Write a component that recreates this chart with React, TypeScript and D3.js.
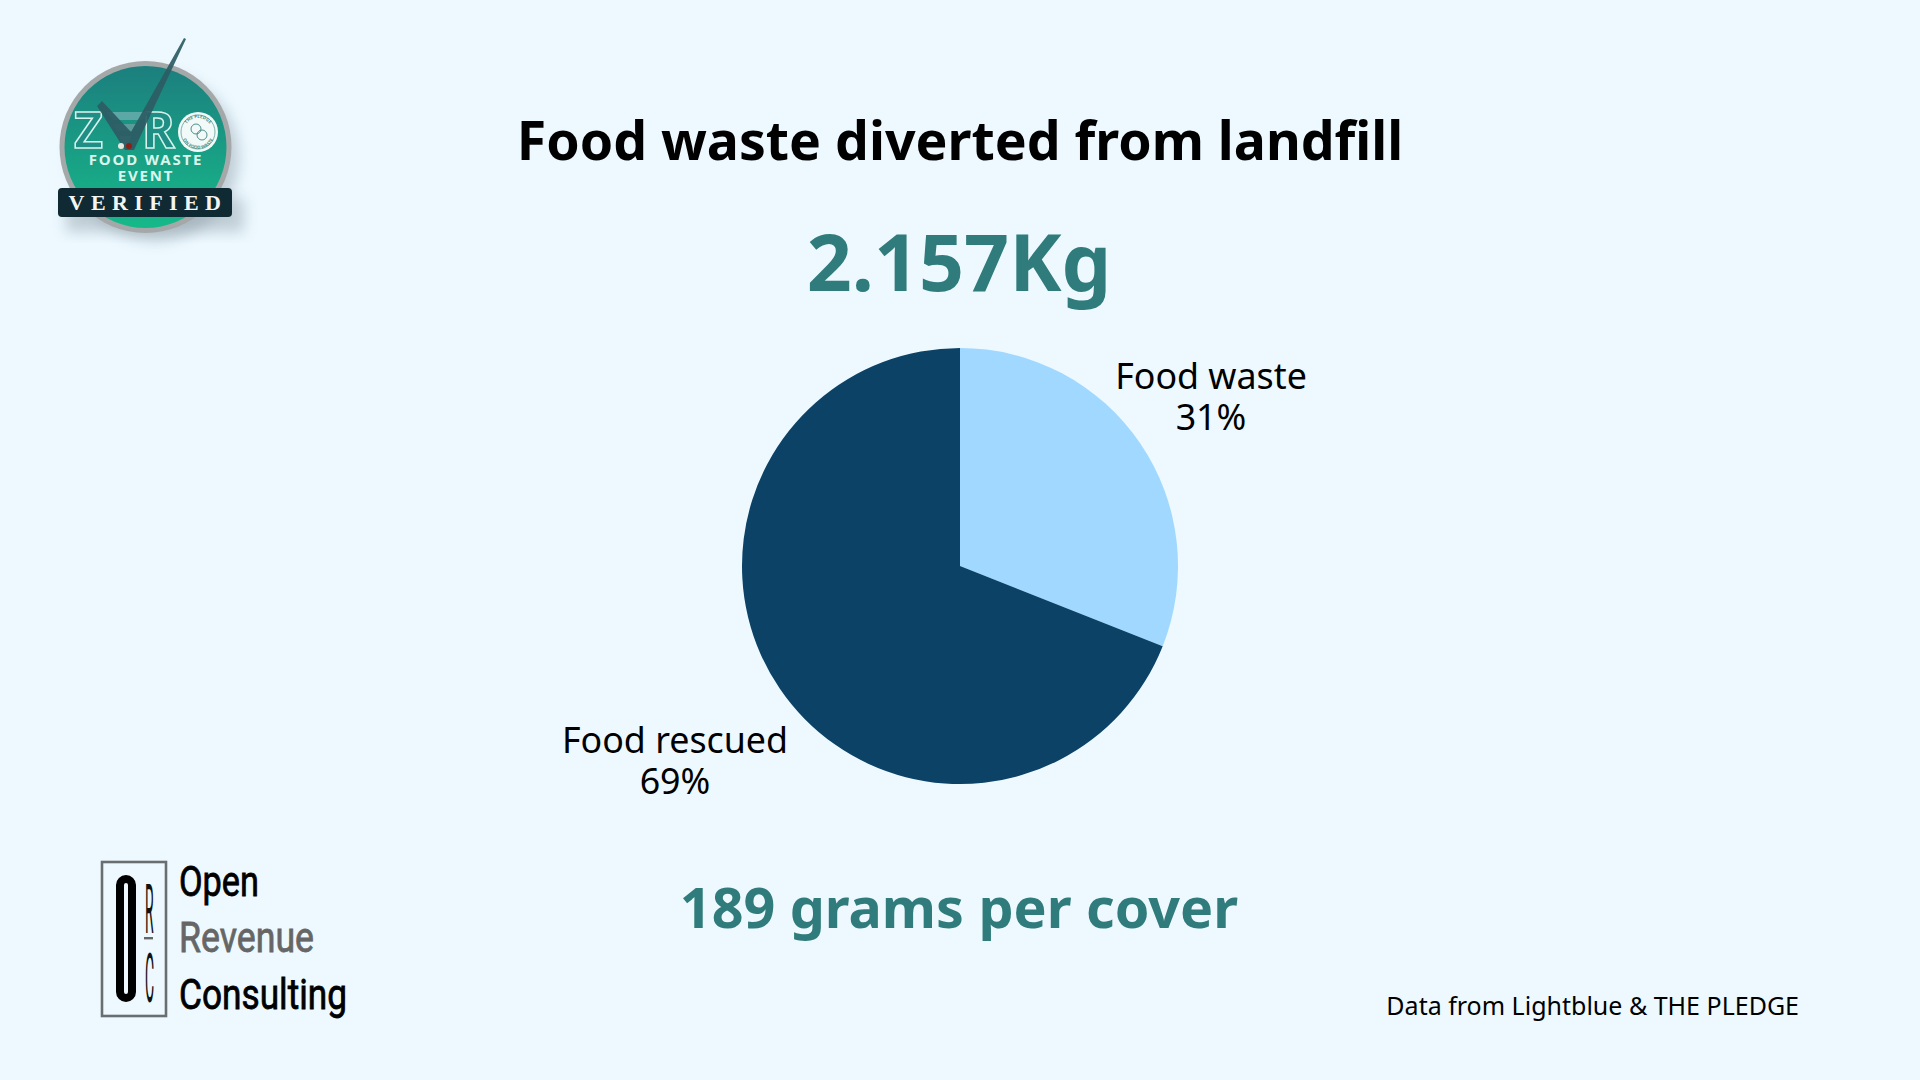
import * as d3 from "d3";

const categories = ["Food waste", "Food rescued"];
const shares = [31, 69];
const sliceColors = ["#a0d8ff", "#0b4266"];

const width = 1920;
const height = 1080;
const centerX = 960;
const centerY = 566;
const radius = 218;
const font = "'Noto Sans', sans-serif";
const narrow = "'Liberation Sans Narrow', Roboto, sans-serif";

// label centres for each slice
const labelAt = [
	[1211, 389],
	[675, 753],
];

const Badge = () => (
	<g>
		<defs>
			<linearGradient id="badgeFill" x1="0" y1="0" x2="0" y2="1">
				<stop offset="0" stopColor="#1c7f7e" />
				<stop offset="1" stopColor="#16b98a" />
			</linearGradient>
			<filter id="soft" x="-30%" y="-30%" width="160%" height="160%">
				<feGaussianBlur stdDeviation="7" />
			</filter>
			<path id="pledgeTop" d="M184,132 A14,14 0 0 1 212,132" />
			<path id="pledgeBottom" d="M181,132 A17,17 0 0 0 215,132" />
		</defs>
		<circle cx={155} cy={157} r={84} fill="#8a9aa5" opacity={0.45} filter="url(#soft)" />
		<rect x={66} y={198} width={178} height={34} fill="#8a9aa5" opacity={0.45} filter="url(#soft)" />
		<circle cx={145.5} cy={147} r={86} fill="#a5a8a8" />
		<circle cx={145.5} cy={147} r={81} fill="url(#badgeFill)" />
		<g fontFamily={font} fontWeight={700} fontSize={50} fill="#1f8f86" stroke="#d8f3ee" strokeWidth={1.5}>
			<text x={74} y={148}>Z</text>
			<text x={142} y={148}>R</text>
		</g>
		<path d="M107,112 H150 L142,120 H113 Z" fill="#5ca8a6" />
		<path d="M113,124 H136 L132,131 H118 Z" fill="#5b9c9b" />
		<path d="M119,136 H131 L128,145 H123 Z" fill="#6aa6a4" />
		<path d="M97,106 L102,101 L131,132 L184,38 L186,39 L134,150 L125,150 Z" fill="#2c5c64" opacity={0.92} />
		<circle cx={121} cy={146} r={3} fill="#e8e8e0" />
		<circle cx={129} cy={146} r={3} fill="#8c2018" />
		<circle cx={198} cy={132} r={20} fill="#f1faf8" />
		<circle cx={198} cy={132} r={17} fill="none" stroke="#5a9f98" strokeWidth={0.8} />
		<circle cx={196} cy={129} r={5} fill="none" stroke="#4d8f8a" strokeWidth={1} />
		<circle cx={202} cy={135} r={5} fill="none" stroke="#4d8f8a" strokeWidth={1} />
		<g fontFamily={font} fontWeight={700} fontSize={4.5} fill="#4d8f8a" textAnchor="middle">
			<text>
				<textPath href="#pledgeTop" startOffset="50%">THE PLEDGE</textPath>
			</text>
			<text>
				<textPath href="#pledgeBottom" startOffset="50%">ON FOOD WASTE</textPath>
			</text>
		</g>
		<g fontFamily={font} fontWeight={700} fill="#d9f5ec" textAnchor="middle" letterSpacing={1.8}>
			<text x={146} y={165} fontSize={15}>FOOD WASTE</text>
			<text x={146} y={181} fontSize={15}>EVENT</text>
		</g>
		<rect x={58} y={188} width={174} height={29} rx={4} fill="#0f2a33" />
		<text
			x={148}
			y={210}
			fontFamily="'Liberation Serif', serif"
			fontWeight={700}
			fontSize={22}
			letterSpacing={6.4}
			fill="#f4f6f4"
			textAnchor="middle"
		>
			VERIFIED
		</text>
	</g>
);

const OrcLogo = () => (
	<g>
		<rect x={102} y={862} width={64} height={154} fill="none" stroke="#6b6e70" strokeWidth={2.6} />
		<rect x={120} y={879} width={12} height={119} rx={6} fill="none" stroke="#000" strokeWidth={8} />
		<g fontFamily={narrow} fontSize={20} fill="#111">
			<text transform="translate(145,933) scale(0.7,3.45)">R</text>
			<text transform="translate(145,1002) scale(0.7,3.45)">C</text>
		</g>
		<rect x={144} y={937} width={9} height={2.4} fill="#666" />
		<g fontFamily={narrow} fontWeight={400} fontSize={42} strokeWidth={0.8}>
			<text x={179} y={896} textLength={80} lengthAdjust="spacingAndGlyphs" fill="#000" stroke="#000">Open</text>
			<text x={179} y={952} textLength={135} lengthAdjust="spacingAndGlyphs" fill="#666" stroke="#666">Revenue</text>
			<text x={179} y={1009} textLength={168} lengthAdjust="spacingAndGlyphs" fill="#000" stroke="#000">Consulting</text>
		</g>
	</g>
);

const App = () => {
	// Pie goes clockwise from 12 o'clock, food waste first
	const pie = d3.pie<number>().sort(null).value((d) => d);
	const arc = d3.arc<d3.PieArcDatum<number>>().innerRadius(0).outerRadius(radius);
	const slices = pie(shares);

	return (
		<svg
			viewBox={`0 0 ${width} ${height}`}
			width={width}
			height={height}
			style={{ position: "absolute", left: 0, top: 0, display: "block" }}
		>
			<rect width={width} height={height} fill="#edf9ff" />
			<Badge />
			<OrcLogo />
			<text x={960} y={160} textAnchor="middle" fontFamily={font} fontWeight={700} fontSize={53.6} fill="#000">
				Food waste diverted from landfill
			</text>
			<text x={959} y={291} textAnchor="middle" fontFamily={font} fontWeight={700} fontSize={78.8} fill="#307c7c">
				2.157Kg
			</text>
			<g transform={`translate(${centerX},${centerY})`}>
				{slices.map((s, i) => (
					<path key={categories[i]} d={arc(s) ?? ""} fill={sliceColors[i]} />
				))}
			</g>
			<g fontFamily={font} fontSize={35.8} fill="#000" textAnchor="middle">
				{categories.map((c, i) => (
					<text key={c} x={labelAt[i][0]} y={labelAt[i][1]}>
						<tspan x={labelAt[i][0]}>{c}</tspan>
						<tspan x={labelAt[i][0]} dy={41}>{`${shares[i]}%`}</tspan>
					</text>
				))}
			</g>
			<text x={959} y={928} textAnchor="middle" fontFamily={font} fontWeight={700} fontSize={55.6} fill="#307c7c">
				189 grams per cover
			</text>
			<text x={1799} y={1015} textAnchor="end" fontFamily={font} fontSize={25} fill="#000">
				Data from Lightblue &amp; THE PLEDGE
			</text>
		</svg>
	);
};

export default App;
